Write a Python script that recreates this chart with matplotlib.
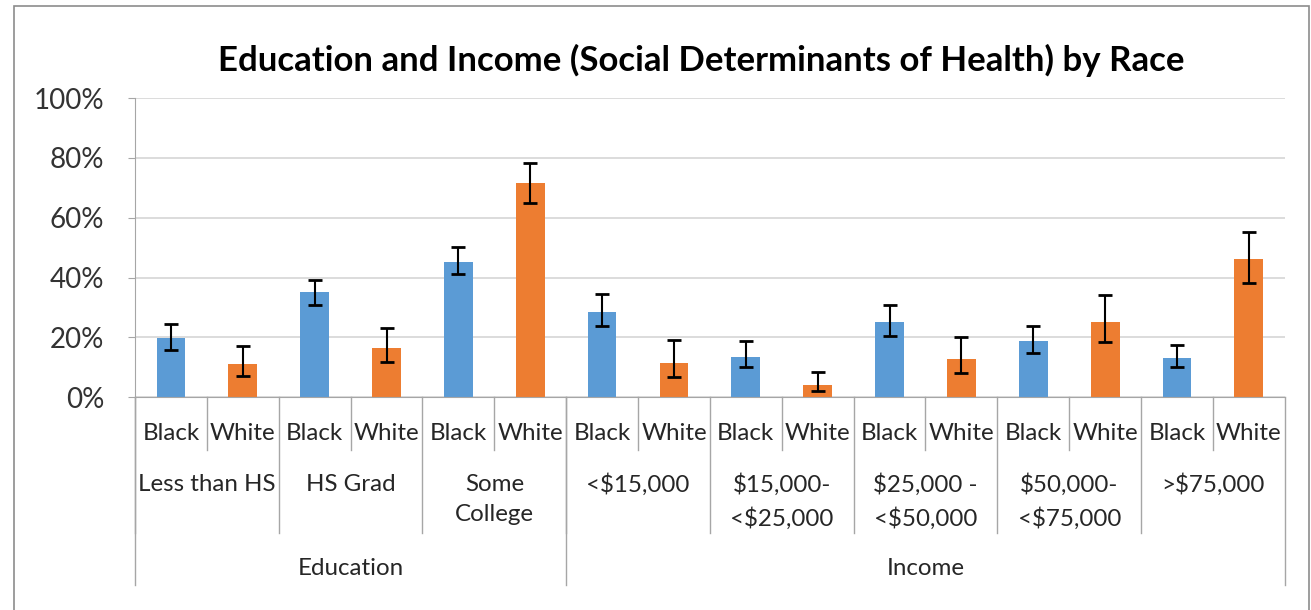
import matplotlib.pyplot as plt
from matplotlib.patches import Rectangle

plt.rcParams['font.family'] = ['Lato', 'DejaVu Sans']

races = ['Black', 'White'] * 8
groups = ['Less than HS', 'HS Grad', 'Some\nCollege', '<$15,000',
          '$15,000-\n<$25,000', '$25,000 -\n<$50,000', '$50,000-\n<$75,000', '>$75,000']
sections = ['Education', 'Income']
section_sizes = [3, 5]

values = [0.197, 0.110, 0.351, 0.166, 0.452, 0.718,
          0.286, 0.114, 0.136, 0.041, 0.251, 0.127,
          0.187, 0.251, 0.131, 0.462]
err_low = [0.158, 0.072, 0.308, 0.119, 0.411, 0.650,
           0.239, 0.068, 0.102, 0.021, 0.205, 0.080,
           0.148, 0.184, 0.102, 0.381]
err_high = [0.244, 0.172, 0.393, 0.231, 0.502, 0.784,
            0.346, 0.193, 0.188, 0.086, 0.308, 0.201,
            0.239, 0.342, 0.175, 0.552]

blue = '#5B9BD5'
orange = '#ED7D31'
grid_gray = '#D9D9D9'
axis_gray = '#A6A6A6'
text_col = '#262626'

fig = plt.figure(figsize=(13.11, 6.10), dpi=100)
ax = fig.add_axes([0.103, 0.3487, 0.877, 0.4904])

x = list(range(len(values)))
colors = [blue if r == 'Black' else orange for r in races]
lower = [v - lo for v, lo in zip(values, err_low)]
upper = [hi - v for v, hi in zip(values, err_high)]
ax.bar(x, values, width=0.4, color=colors, zorder=2)
ax.errorbar(x, values, yerr=[lower, upper], fmt='none', ecolor='black',
            elinewidth=1.5, capsize=5, capthick=2, zorder=3)

ax.set_xlim(-0.5, len(values) - 0.5)
ax.set_ylim(0, 1)
ax.set_yticks([0, 0.2, 0.4, 0.6, 0.8, 1.0])
ax.set_yticklabels(['0%', '20%', '40%', '60%', '80%', '100%'], fontsize=20, color='#333333')
ax.yaxis.grid(True, color=grid_gray, linewidth=1.3, zorder=0)
ax.set_axisbelow(True)
ax.tick_params(axis='y', length=5, color=axis_gray, pad=17)
ax.set_xticks([])
for s in ['top', 'right']:
    ax.spines[s].set_visible(False)
ax.spines['left'].set_color(axis_gray)
ax.spines['bottom'].set_color(axis_gray)

fig.text(701.5 / 1311, 1 - 60 / 610, 'Education and Income (Social Determinants of Health) by Race',
         fontsize=25, fontweight='bold', ha='center', va='center')

tr = ax.get_xaxis_transform()
lc = axis_gray
# race labels and short dividers
for i, r in enumerate(races):
    ax.text(i, -0.12, r, transform=tr, ha='center', va='center', fontsize=17.4, color=text_col)
    if i % 2 == 0:
        ax.plot([i + 0.5, i + 0.5], [0, -0.176], transform=tr, color=lc, lw=1, clip_on=False)
# group labels
for g, name in enumerate(groups):
    ax.text(2 * g + 0.5, -0.255, name, transform=tr, ha='center', va='top',
            fontsize=17.4, color=text_col, linespacing=1.57)
    ax.plot([2 * g - 0.5, 2 * g - 0.5], [0, -0.454], transform=tr, color=lc, lw=1, clip_on=False)
# section labels
start = 0
for name, n in zip(sections, section_sizes):
    ax.text(start + n - 0.5, -0.573, name, transform=tr, ha='center', va='center',
            fontsize=17.4, color=text_col)
    ax.plot([start - 0.5, start - 0.5], [0, -0.627], transform=tr, color=lc, lw=1, clip_on=False)
    start += 2 * n
ax.plot([start - 0.5, start - 0.5], [0, -0.627], transform=tr, color=lc, lw=1, clip_on=False)

# chart frame
fig.patches.append(Rectangle((14 / 1311, -0.05), 1295 / 1311, 1.05 - 6 / 610,
                             transform=fig.transFigure, fill=False,
                             edgecolor='#8C8C8C', linewidth=1.2))

fig.savefig('out.png', dpi=100)
